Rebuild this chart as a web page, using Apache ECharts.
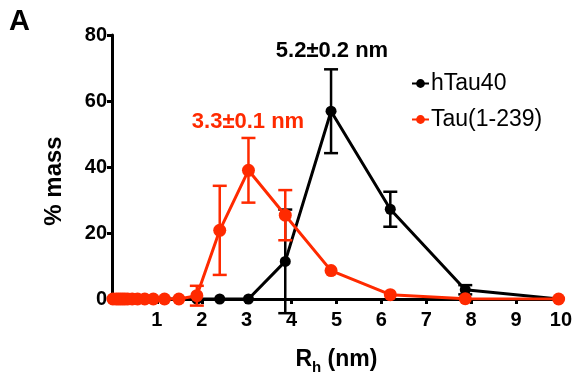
<!DOCTYPE html>
<html>
<head>
<meta charset="utf-8">
<script src="https://cdn.jsdelivr.net/npm/echarts@6/dist/echarts.min.js"></script>
<style>html,body{margin:0;padding:0;background:#fff}#c{width:575px;height:380px}</style>
</head>
<body>
<div id="c"></div>
<script>
// Rh values (nm), shared by both series
var rh = [0.02, 0.09, 0.14, 0.19, 0.24, 0.29, 0.35, 0.45, 0.57, 0.73, 0.92, 1.17, 1.49, 1.89, 2.4, 3.04, 3.86, 4.88, 6.2, 7.87, 9.95];
var hTau40 = [0, 0, 0, 0, 0, 0, 0, 0, 0, 0, 0, 0, 0, 0, 0, 0, 11.4, 56.9, 27.2, 2.8, 0];
var hTau40Err = [0, 0, 0, 0, 0, 0, 0, 0, 0, 0, 0, 0, 0, 0, 0, 0, 15.7, 12.7, 5.3, 1.4, 0];
var tau239 = [0, 0, 0, 0, 0, 0, 0, 0, 0, 0, 0, 0, 0, 1.0, 20.8, 39.0, 25.4, 8.6, 1.3, 0.1, 0];
var tau239Err = [0, 0, 0, 0, 0, 0, 0, 0, 0, 0, 0, 0, 0, 3.0, 13.5, 9.8, 7.6, 0, 0, 0, 0];
var yTicks = [0, 20, 40, 60, 80];
var xTicks = [1, 2, 3, 4, 5, 6, 7, 8, 9, 10];
var seriesNames = ['hTau40', 'Tau(1-239)'];
var annoBlack = '5.2\u00b10.2 nm';
var annoRed = '3.3\u00b10.1 nm';

var BLACK = '#000000';
var RED = '#ff2a00';

function pts(vals) { return rh.map(function (x, i) { return [x, vals[i]]; }); }
function errData(vals, errs) {
  var out = [];
  rh.forEach(function (x, i) { if (errs[i] > 0) out.push([x, vals[i] - errs[i], vals[i] + errs[i]]); });
  return out;
}
function errRender(color) {
  return function (params, api) {
    var x = api.value(0), lo = api.value(1), hi = api.value(2);
    var pLo = api.coord([x, lo]), pHi = api.coord([x, hi]);
    var w = 7;
    var st = { stroke: color, lineWidth: 2.5 };
    return {
      type: 'group',
      children: [
        { type: 'line', shape: { x1: pLo[0], y1: pLo[1], x2: pHi[0], y2: pHi[1] }, style: st },
        { type: 'line', shape: { x1: pLo[0] - w, y1: pLo[1], x2: pLo[0] + w, y2: pLo[1] }, style: st },
        { type: 'line', shape: { x1: pHi[0] - w, y1: pHi[1], x2: pHi[0] + w, y2: pHi[1] }, style: st }
      ]
    };
  };
}

var chart = echarts.init(document.getElementById('c'));
var FONT = 'Liberation Sans, Arial, sans-serif';
chart.setOption({
  animation: false,
  textStyle: { fontFamily: FONT },
  grid: { left: 112, right: 14, top: 35, bottom: 80, containLabel: false },
  legend: {
    orient: 'vertical', left: 406, top: 67, itemGap: 13,
    itemWidth: 17, itemHeight: 11,
    data: seriesNames,
    textStyle: { fontSize: 23, color: '#000', fontFamily: FONT, padding: [0, 0, 0, -3] }
  },
  xAxis: {
    type: 'value', min: 0, max: 10, interval: 1,
    name: 'R{sub|h} (nm)', nameLocation: 'middle', nameGap: 45,
    nameTextStyle: { fontSize: 23, fontWeight: 'bold', color: '#000', fontFamily: FONT,
      rich: { sub: { fontSize: 15, fontWeight: 'bold', color: '#000', fontFamily: FONT, padding: [16, 0, 0, 0] } } },
    axisLine: { lineStyle: { color: '#000', width: 3 } },
    axisTick: { length: 5, lineStyle: { width: 3, color: '#000' } },
    axisLabel: { fontSize: 20, fontWeight: 'bold', color: '#000', margin: 11,
      formatter: function (v) { return xTicks.indexOf(v) >= 0 ? String(v) : ''; } },
    splitLine: { show: false }
  },
  yAxis: {
    type: 'value', min: 0, max: 80, interval: 20,
    name: '% mass', nameLocation: 'middle', nameGap: 46, nameRotate: 90,
    nameTextStyle: { fontSize: 24, fontWeight: 'bold', color: '#000', fontFamily: FONT, padding: [0, 28, 0, 0] },
    axisLine: { show: true, lineStyle: { color: '#000', width: 3 } },
    axisTick: { show: true, length: 5, lineStyle: { width: 3, color: '#000' } },
    axisLabel: { fontSize: 20, fontWeight: 'bold', color: '#000', margin: 5,
      formatter: function (v) { return yTicks.indexOf(v) >= 0 ? String(v) : ''; } },
    splitLine: { show: false }
  },
  graphic: [
    { type: 'text', left: 9, top: 7, style: { text: 'A', fontSize: 29, fontWeight: 'bold', fill: '#000', fontFamily: FONT } },
    { type: 'text', x: 332, y: 51, style: { text: annoBlack, fontSize: 22, fontWeight: 'bold', fill: BLACK, fontFamily: FONT, align: 'center', verticalAlign: 'middle' } },
    { type: 'text', x: 248, y: 122, style: { text: annoRed, fontSize: 22, fontWeight: 'bold', fill: RED, fontFamily: FONT, align: 'center', verticalAlign: 'middle' } }
  ],
  series: [
    { name: 'hTau40', type: 'line', data: pts(hTau40), symbol: 'circle', symbolSize: 11, z: 2,
      itemStyle: { color: BLACK }, lineStyle: { color: BLACK, width: 3 } },
    { type: 'custom', data: errData(hTau40, hTau40Err), renderItem: errRender(BLACK), clip: false, z: 2, silent: true },
    { name: 'Tau(1-239)', type: 'line', data: pts(tau239), symbol: 'circle', symbolSize: 13, z: 3,
      itemStyle: { color: RED }, lineStyle: { color: RED, width: 3 } },
    { type: 'custom', data: errData(tau239, tau239Err), renderItem: errRender(RED), clip: false, z: 3, silent: true }
  ]
});
</script>
</body>
</html>
